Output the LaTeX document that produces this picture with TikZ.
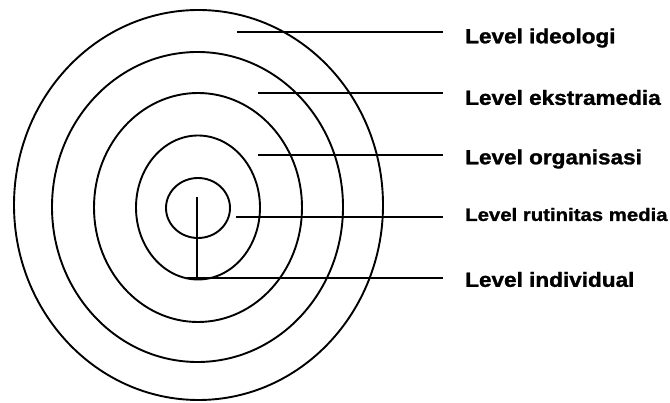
\documentclass[tikz,border=0pt]{standalone}
\usepackage{fontspec}
\setmainfont{Liberation Sans}[BoldFeatures={FakeBold=1.2}]
\begin{document}
\begin{tikzpicture}[x=1pt,y=-1pt,
  ring/.style={draw=black,line width=1.9pt},
  leader/.style={draw=black,line width=1.7pt},
  lbl/.style={anchor=west,inner sep=0pt,font=\fontsize{20.5}{24}\selectfont\bfseries,xscale=1.1},
  lblsmall/.style={anchor=west,inner sep=0pt,font=\fontsize{18}{22}\selectfont\bfseries,xscale=1.13}]
\useasboundingbox (0,0) rectangle (670,403);
% rings
\draw[ring] (198.5,205) ellipse [x radius=184.5, y radius=195];
\draw[ring] (197.5,207) ellipse [x radius=145.5, y radius=155];
\draw[ring] (198,207.5) ellipse [x radius=104, y radius=114.5];
\draw[ring] (198,207.5) ellipse [x radius=62, y radius=72];
\draw[ring] (198,208) ellipse [x radius=32, y radius=30];
% labels
\node[lbl] (t1) at (465,38) {Level ideologi};
\node[lbl] (t2) at (465,97.5) {Level ekstramedia};
\node[lbl] (t3) at (465,159) {Level organisasi};
\node[lblsmall] (t4) at (465,214.5) {Level rutinitas media};
\node[lbl] (t5) at (465,279.5) {Level individual};
% leader start points
\coordinate (s1) at (237,32);
\coordinate (s2) at (258,93);
\coordinate (s3) at (258,155);
\coordinate (s4) at (236,217);
\coordinate (s5) at (187,278);
\coordinate (v1) at (197,197);
\coordinate (v2) at (197,278);
\draw[leader] (s1) -- ([xshift=-22pt]t1.west |- s1);
\draw[leader] (s2) -- ([xshift=-22pt]t2.west |- s2);
\draw[leader] (s3) -- ([xshift=-22pt]t3.west |- s3);
\draw[leader] (s4) -- ([xshift=-22pt]t4.west |- s4);
\draw[leader] (s5) -- ([xshift=-22pt]t5.west |- s5);
\draw[leader] (v1) -- (v2);
\end{tikzpicture}
\end{document}
